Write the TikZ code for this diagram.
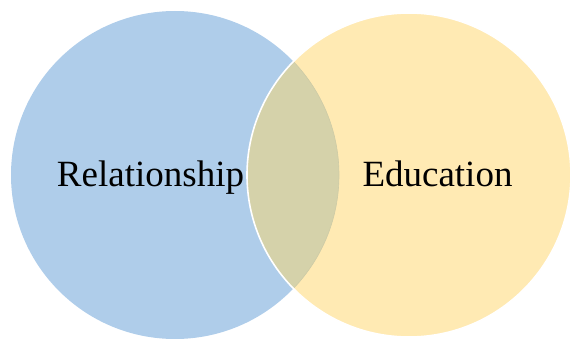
\documentclass[tikz,border=0pt]{standalone}
\usepackage{fontspec}
\setmainfont{Liberation Serif}
\definecolor{cblue}{HTML}{AFCDEA}
\definecolor{cyellow}{HTML}{FFEAB3}
\definecolor{cover}{HTML}{D5D2AA}
\definecolor{cedge}{HTML}{CDCBA6}
\tikzset{lbl/.style={anchor=base, inner sep=0pt, font=\fontsize{37}{41}\selectfont}}
\begin{document}
\begin{tikzpicture}[x=1pt,y=1pt]
\useasboundingbox (0,0) rectangle (571,338);
\fill[cblue] (175,163) circle (164);
\fill[cyellow] (409,163) circle (162);
\begin{scope}
\clip (175,163) circle (164);
\fill[cover] (409,163) circle (162);
\end{scope}
\begin{scope}
\clip (409,163) circle (162);
\draw[cedge, line width=0.6pt] (175,163) circle (164);
\end{scope}
\draw[white, line width=1.6pt] (409,163) circle (162);
\node[lbl] (rel) at (150.5,151) {Relationship};
\node[lbl] (edu) at (437.5,151) {Education};
\end{tikzpicture}
\end{document}
